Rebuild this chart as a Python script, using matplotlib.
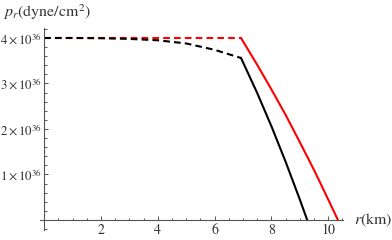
import matplotlib

matplotlib.use("Agg")
import matplotlib.pyplot as plt
from matplotlib.ticker import FixedLocator, MultipleLocator

# radial pressure, units of 1e36 dyne/cm^2, radius in km
black_dashed_r = [0.0, 1.0, 2.0, 3.0, 4.0, 5.0, 6.0, 6.93]
black_dashed_p = [4.00, 4.00, 3.995, 3.98, 3.95, 3.88, 3.74, 3.56]
black_solid_r = [6.93, 7.5, 8.0, 8.5, 9.0, 9.26]
black_solid_p = [3.56, 2.79, 2.06, 1.28, 0.45, 0.0]

red_dashed_r = [0.0, 3.0, 6.93]
red_dashed_p = [4.00, 4.00, 4.00]
red_solid_r = [6.93, 7.5, 8.0, 8.5, 9.0, 9.5, 10.0, 10.34]
red_solid_p = [4.00, 3.41, 2.87, 2.31, 1.71, 1.10, 0.45, 0.0]

x_ticks = [2, 4, 6, 8, 10]
y_ticks = [1, 2, 3, 4]
y_tick_labels = [rf"${v}\times10^{{36}}$" for v in y_ticks]

plt.rcParams["font.family"] = "STIXGeneral"
plt.rcParams["mathtext.fontset"] = "stix"

fig = plt.figure(figsize=(3.92, 2.4), dpi=100)
ax = fig.add_axes([0.1018, 0.0417, 0.7732, 0.8417])

dash = (0, (3.2, 2.0))
ax.plot(red_dashed_r, red_dashed_p, color="#ff0000", linewidth=1.5, linestyle=dash)
ax.plot(red_solid_r, red_solid_p, color="#ff0000", linewidth=1.5)
ax.plot(black_dashed_r, black_dashed_p, color="black", linewidth=1.5, linestyle=dash)
ax.plot(black_solid_r, black_solid_p, color="black", linewidth=1.5)

ax.set_xlim(-0.15, 10.52)
ax.set_ylim(-0.22, 4.22)
for side in ("top", "right"):
    ax.spines[side].set_visible(False)
for side in ("left", "bottom"):
    ax.spines[side].set_position(("data", 0))
    ax.spines[side].set_color("#555555")
    ax.spines[side].set_linewidth(0.8)

ax.xaxis.set_major_locator(FixedLocator(x_ticks))
ax.xaxis.set_minor_locator(MultipleLocator(0.5))
ax.yaxis.set_major_locator(FixedLocator(y_ticks))
ax.yaxis.set_minor_locator(MultipleLocator(0.2))
ax.set_yticklabels(y_tick_labels)
ax.tick_params(which="both", direction="in", color="#555555", width=0.7,
               labelcolor="#333333")
ax.tick_params(which="major", length=3.0)
ax.tick_params(which="minor", length=1.8)
ax.tick_params(axis="x", labelsize=10, pad=2.5)
ax.tick_params(axis="y", labelsize=9.3, pad=1.5)

fig.text(0.008, 0.95, r"$p_r$(dyne/cm$^2$)", fontsize=11.5, color="#333333",
         ha="left", va="center")
fig.text(0.902, 0.083, r"$r$(km)", fontsize=11.5, color="#333333",
         ha="left", va="center")

fig.savefig("out.png", dpi=100)
